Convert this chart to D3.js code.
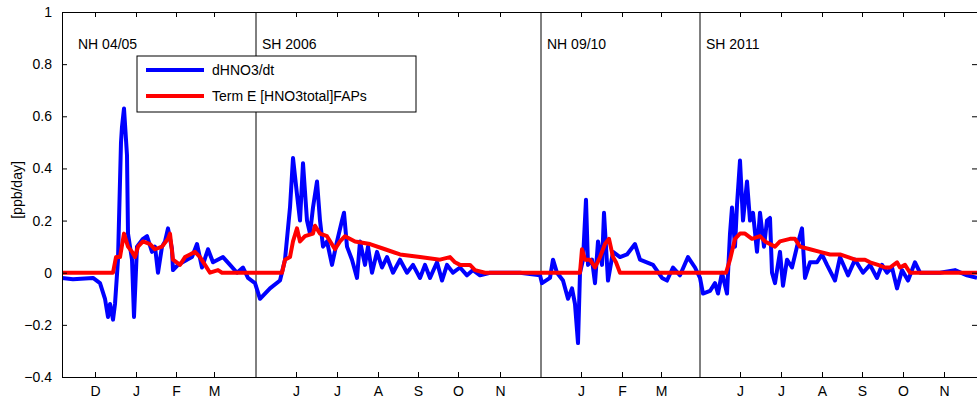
<!DOCTYPE html>
<html>
<head>
<meta charset="utf-8">
<script src="https://cdn.jsdelivr.net/npm/d3@7"></script>
<style>
  body { margin: 0; background: #fff; }
  text { font-family: "Liberation Sans", Arial, sans-serif; }
</style>
</head>
<body>
<div id="canvas"></div>
<script>
// time index (days, arbitrary origin) for the concatenated winters
const blueT = [62,73,93,100,105,108,110,113,115,118,121,122,124,127,128,132,134,137,143,147,152,155,158,162,165,168,172,173,178,187,192,197,202,208,213,223,230,237,243,248,255,260,270,280,285,290,293,297,300,303,307,310,313,317,320,323,327,332,337,342,344,347,352,357,360,365,368,372,377,382,387,393,400,407,413,420,425,430,437,442,447,453,460,467,473,480,490,503,520,540,542,550,553,557,563,568,572,575,578,580,583,586,588,592,595,598,602,604,608,613,620,627,635,640,653,662,667,673,680,688,695,700,703,710,715,718,722,727,730,732,735,737,740,743,747,750,753,757,760,764,767,770,772,775,780,783,787,792,797,802,805,810,817,822,827,835,840,848,855,863,870,877,882,887,892,897,902,908,915,920,930,940,955,967,977];
const blueV = [-0.02,-0.025,-0.02,-0.04,-0.1,-0.17,-0.12,-0.18,-0.12,0.05,0.5,0.56,0.63,0.45,0.15,0.05,-0.17,0.1,0.13,0.14,0.08,0.1,0.0,0.1,0.12,0.17,0.09,0.01,0.03,0.05,0.06,0.11,0.02,0.09,0.04,0.06,0.03,0.0,0.02,-0.02,-0.04,-0.1,-0.06,-0.03,0.05,0.25,0.44,0.3,0.2,0.42,0.2,0.15,0.25,0.35,0.2,0.1,0.12,0.03,0.12,0.2,0.23,0.1,0.05,-0.02,0.12,0.03,0.1,0.0,0.08,0.02,0.06,0.0,0.05,0.0,0.03,-0.02,0.03,-0.02,0.04,-0.03,0.03,0.0,0.02,-0.01,0.01,-0.01,0.0,0.0,0.0,-0.01,-0.04,-0.02,0.05,0.0,-0.03,-0.1,-0.06,-0.12,-0.27,0.0,0.05,0.28,0.03,0.05,-0.04,0.12,0.03,0.23,-0.03,0.08,0.06,0.07,0.11,0.05,0.03,-0.02,-0.03,0.02,-0.01,0.06,0.02,-0.02,-0.08,-0.07,-0.04,-0.08,0.0,-0.08,0.15,0.25,0.1,0.26,0.43,0.2,0.35,0.2,0.23,0.08,0.23,0.1,0.2,0.21,0.0,-0.04,0.08,-0.05,0.05,0.02,0.1,0.17,-0.02,0.04,0.04,0.07,0.03,-0.03,0.06,-0.01,0.05,0.0,0.03,-0.02,0.03,0.0,0.02,-0.06,0.01,-0.03,0.04,0.0,0.0,0.0,0.01,-0.01,-0.02];
const redT = [62,113,116,120,124,128,132,135,138,143,150,155,162,168,170,173,180,185,190,195,200,205,210,218,222,282,285,290,293,297,300,305,313,315,320,327,335,340,345,355,370,385,400,420,440,450,455,460,470,475,485,580,582,585,590,595,600,605,609,613,616,620,726,730,735,740,745,752,760,765,775,780,790,795,800,810,820,830,840,848,855,865,870,878,885,890,897,900,905,910,977];
const redV = [0,0,0.06,0.06,0.15,0.1,0.08,0.06,0.1,0.12,0.11,0.09,0.1,0.13,0.15,0.05,0.03,0.06,0.07,0.08,0.06,0.03,0.0,0.01,0,0,0.05,0.06,0.12,0.17,0.12,0.14,0.15,0.18,0.15,0.14,0.09,0.12,0.14,0.12,0.11,0.09,0.07,0.06,0.05,0.06,0.04,0.03,0.03,0.01,0,0,0.09,0.05,0.05,0.02,0.06,0.11,0.13,0.06,0.04,0,0,0.05,0.13,0.15,0.15,0.13,0.14,0.12,0.1,0.12,0.13,0.13,0.1,0.09,0.08,0.07,0.07,0.06,0.05,0.05,0.04,0.03,0.02,0.02,0.04,0.02,0.03,0,0];
const monthLabels = ["D","J","F","M","J","J","A","S","O","N","J","F","M","J","J","A","S","O","N"];
const monthT = [95,136,176,214,296,337,378,418,458,500,581,622,661,740,781,822,862,903,944];
const periodLabels = ["NH 04/05","SH 2006","NH 09/10","SH 2011"];
const periodStart = [62,256,541,700];
const yTicks = [-0.4,-0.2,0,0.2,0.4,0.6,0.8,1];

const width = 977, height = 402;
const margin = { top: 12, left: 62, bottom: 25, right: 0 };
const iwidth = width - margin.left - margin.right;
const iheight = height - margin.top - margin.bottom;

const svg = d3.select("#canvas").append("svg")
  .attr("width", width).attr("height", height);
const g = svg.append("g").attr("transform", `translate(${margin.left}, ${margin.top})`);

const x = d3.scaleLinear().domain([62, 977]).range([0, iwidth]);
const y = d3.scaleLinear().domain([-0.4, 1]).range([iheight, 0]);

svg.append("clipPath").attr("id", "clip")
  .append("rect").attr("width", iwidth).attr("height", iheight);

// period separators
g.selectAll(".sep").data(periodStart.slice(1)).enter().append("line")
  .attr("x1", d => x(d)).attr("x2", d => x(d))
  .attr("y1", 0).attr("y2", iheight)
  .attr("stroke", "#000").attr("stroke-width", 1);

g.selectAll(".period").data(periodLabels).enter().append("text")
  .attr("x", (d, i) => x(periodStart[i]) + 16 - (i === 0 ? 0 : 10))
  .attr("y", 37).attr("font-size", 14).text(d => d);

const line = d3.line().x(d => x(d[0])).y(d => y(d[1]));
const plot = g.append("g").attr("clip-path", "url(#clip)");
plot.append("path").datum(d3.zip(blueT, blueV))
  .attr("d", line).attr("fill", "none").attr("stroke", "#0000ff")
  .attr("stroke-width", 4).attr("stroke-linejoin", "round");
plot.append("path").datum(d3.zip(redT, redV))
  .attr("d", line).attr("fill", "none").attr("stroke", "#ff0000")
  .attr("stroke-width", 4).attr("stroke-linejoin", "round");

// axes (matlab style box)
const fmt = d => d === 0 ? "0" : d3.format("")(d).replace("-", "\u2212");
g.append("g").call(d3.axisLeft(y).tickValues(yTicks).tickSize(-5).tickFormat(fmt).tickPadding(10));
g.append("g").attr("transform", `translate(${iwidth},0)`).call(d3.axisRight(y).tickValues(yTicks).tickSize(-5).tickFormat(""));
g.append("g").attr("transform", `translate(0,${iheight})`)
  .call(d3.axisBottom(x).tickValues(monthT).tickSize(-5).tickPadding(9).tickFormat((d, i) => monthLabels[i]));
g.append("g").call(d3.axisTop(x).tickValues(monthT).tickSize(-5).tickFormat(""));
g.selectAll(".domain").attr("stroke", "#000");
g.selectAll(".tick text").attr("font-size", 14).attr("fill", "#000")
  .style("font-family", "Liberation Sans, Arial, sans-serif");

svg.append("text").attr("transform", `translate(22, 190) rotate(-90)`)
  .attr("text-anchor", "middle").attr("font-size", 14).text("[ppb/day]");

// legend
const lg = svg.append("g").attr("transform", "translate(137, 56)");
lg.append("rect").attr("width", 279).attr("height", 56)
  .attr("fill", "#fff").attr("stroke", "#000");
const legendItems = [["dHNO3/dt", "#0000ff"], ["Term E [HNO3total]FAPs", "#ff0000"]];
legendItems.forEach((d, i) => {
  const yy = 14 + i * 26;
  lg.append("line").attr("x1", 9).attr("x2", 67).attr("y1", yy).attr("y2", yy)
    .attr("stroke", d[1]).attr("stroke-width", 4);
  lg.append("text").attr("x", 75).attr("y", yy + 5).attr("font-size", 14).text(d[0]);
});
</script>
</body>
</html>
